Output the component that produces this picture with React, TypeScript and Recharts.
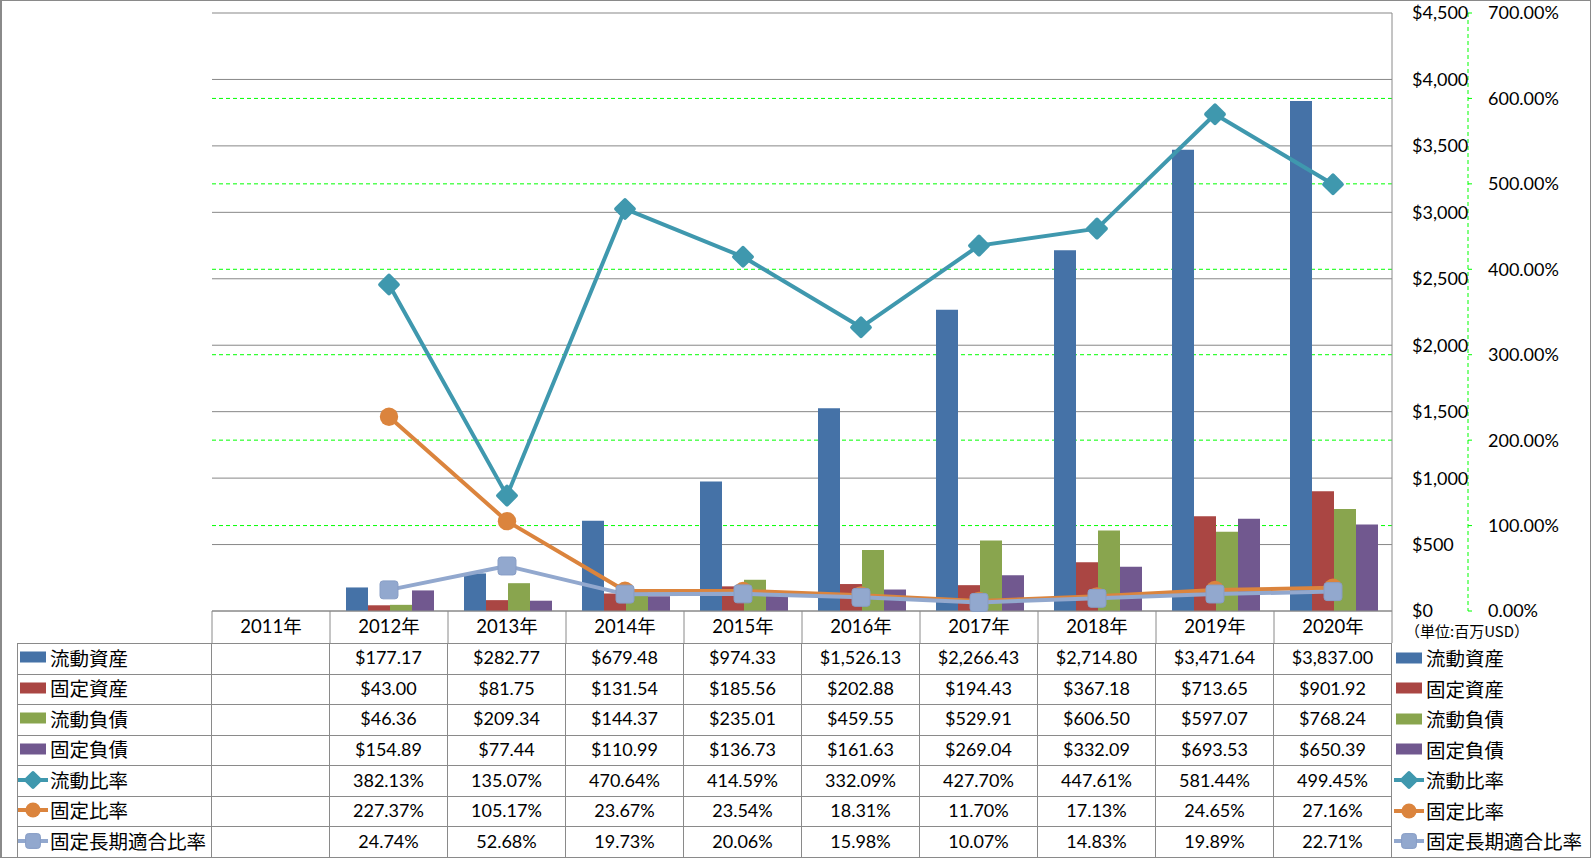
import React from 'react';
import { ComposedChart, Bar, Line, XAxis, YAxis, CartesianGrid } from 'recharts';

const years = ['2011年', '2012年', '2013年', '2014年', '2015年', '2016年', '2017年', '2018年', '2019年', '2020年'];
const currentAssets = [null, 177.17, 282.77, 679.48, 974.33, 1526.13, 2266.43, 2714.8, 3471.64, 3837.0];
const fixedAssets = [null, 43.0, 81.75, 131.54, 185.56, 202.88, 194.43, 367.18, 713.65, 901.92];
const currentLiabilities = [null, 46.36, 209.34, 144.37, 235.01, 459.55, 529.91, 606.5, 597.07, 768.24];
const fixedLiabilities = [null, 154.89, 77.44, 110.99, 136.73, 161.63, 269.04, 332.09, 693.53, 650.39];
const currentRatio = [null, 382.13, 135.07, 470.64, 414.59, 332.09, 427.7, 447.61, 581.44, 499.45];
const fixedRatio = [null, 227.37, 105.17, 23.67, 23.54, 18.31, 11.7, 17.13, 24.65, 27.16];
const fixedLongTermRatio = [null, 24.74, 52.68, 19.73, 20.06, 15.98, 10.07, 14.83, 19.89, 22.71];

const usdTicks = [0, 500, 1000, 1500, 2000, 2500, 3000, 3500, 4000, 4500];
const pctTicks = [0, 100, 200, 300, 400, 500, 600, 700];
const pctGridValues = [100, 200, 300, 400, 500, 600];
const unitLabel = '（単位:百万USD）';

const C_BLUE = '#4572A7';
const C_RED = '#AA4643';
const C_GREEN = '#89A54E';
const C_PURPLE = '#71588F';
const C_TEAL = '#3F98AE';
const C_ORANGE = '#DB843D';
const C_LIGHT = '#92A8CE';
const C_BORDER = '#8a8a8a';

const W = 1591;
const H = 858;
const PLOT_LEFT = 212;
const PLOT_TOP = 13;
const PLOT_BOTTOM = 611;
const PLOT_RIGHT = 1392;
const HEADER_H = 32;
const USD_AXIS_W = 76;
const PCT_AXIS_W = W - PLOT_RIGHT - USD_AXIS_W;
const COL_W = (PLOT_RIGHT - PLOT_LEFT) / years.length;
const TABLE_TOP = PLOT_BOTTOM + HEADER_H;
const ROW_H = (H - 1 - TABLE_TOP) / 7;

const USD_ID = 'a_usd';
const PCT_ID = 'b_pct';

const FONT = "Lato, 'Noto Sans CJK JP', sans-serif";
const CJK = "'Noto Sans CJK JP', sans-serif";

type Kind = 'bar' | 'diamond' | 'circle' | 'square';
const fmtUsd = (v: number) => '$' + v.toLocaleString('en-US', { minimumFractionDigits: 2, maximumFractionDigits: 2 });
const fmtPct = (v: number) => v.toFixed(2) + '%';

const rows: { key: string; name: string; kind: Kind; color: string; values: (number | null)[]; fmt: (v: number) => string }[] = [
  { key: 'ca', name: '流動資産', kind: 'bar', color: C_BLUE, values: currentAssets, fmt: fmtUsd },
  { key: 'fa', name: '固定資産', kind: 'bar', color: C_RED, values: fixedAssets, fmt: fmtUsd },
  { key: 'cl', name: '流動負債', kind: 'bar', color: C_GREEN, values: currentLiabilities, fmt: fmtUsd },
  { key: 'fl', name: '固定負債', kind: 'bar', color: C_PURPLE, values: fixedLiabilities, fmt: fmtUsd },
  { key: 'cr', name: '流動比率', kind: 'diamond', color: C_TEAL, values: currentRatio, fmt: fmtPct },
  { key: 'fr', name: '固定比率', kind: 'circle', color: C_ORANGE, values: fixedRatio, fmt: fmtPct },
  { key: 'flr', name: '固定長期適合比率', kind: 'square', color: C_LIGHT, values: fixedLongTermRatio, fmt: fmtPct },
];

const data = years.map((y, i) => {
  const o: any = { year: y };
  rows.forEach((r) => {
    o[r.key] = r.values[i];
  });
  return o;
});

function marker(kind: Kind, cx: number, cy: number, color: string, s: number, key?: string) {
  if (kind === 'diamond') {
    const side = s * 0.72;
    return (
      <rect key={key} x={cx - side / 2} y={cy - side / 2} width={side} height={side} rx={2}
        transform={`rotate(45 ${cx} ${cy})`} fill={color} />
    );
  }
  if (kind === 'circle') {
    return <circle key={key} cx={cx} cy={cy} r={s / 2 * 0.8} fill={color} />;
  }
  const side = s * 0.78;
  return (
    <rect key={key} x={cx - side / 2} y={cy - side / 2} width={side} height={side} rx={3}
      fill={color} stroke="#889ec6" strokeWidth={1} />
  );
}

const makeDot = (kind: Kind, color: string) => (p: any) => {
  if (p.cx == null || p.cy == null || p.value == null || (Array.isArray(p.value) && p.value[1] == null)) {
    return <g key={`d-${p.index}`} />;
  }
  return marker(kind, p.cx, p.cy, color, 23, `d-${p.index}`);
};

const YearTick = (props: any) => {
  const { x, y, payload, index } = props;
  const half = COL_W / 2;
  return (
    <g>
      <line x1={x - half} x2={x - half} y1={y} y2={y + HEADER_H} stroke={C_BORDER} strokeWidth={1} />
      {index === years.length - 1 && (
        <line x1={x + half} x2={x + half} y1={y} y2={y + HEADER_H} stroke={C_BORDER} strokeWidth={1} />
      )}
      <text x={x} y={y + HEADER_H / 2} dy="0.35em" textAnchor="middle" fontSize={18.5} fill="#000" fontFamily={FONT}>
        {payload.value}
      </text>
    </g>
  );
};

function LegendKey({ kind, color }: { kind: Kind; color: string }) {
  return (
    <svg width={30} height={20} style={{ display: 'block', flex: '0 0 auto' }}>
      {kind === 'bar' ? (
        <rect x={2} y={4.5} width={26} height={11} fill={color} />
      ) : (
        <g>
          <line x1={0} x2={30} y1={10} y2={10} stroke={color} strokeWidth={4} />
          {marker(kind, 15, 10, color, 19)}
        </g>
      )}
    </svg>
  );
}

export default function App() {
  const cellBase: React.CSSProperties = {
    boxSizing: 'border-box',
    borderRight: `1px solid ${C_BORDER}`,
    borderBottom: `1px solid ${C_BORDER}`,
    display: 'flex',
    alignItems: 'center',
    overflow: 'hidden',
    whiteSpace: 'nowrap',
    paddingBottom: 3,
  };
  return (
    <div style={{ position: 'absolute', left: 0, top: 0, width: W, height: H, background: '#fff', fontFamily: FONT }}>
      <ComposedChart
        width={W}
        height={H}
        data={data}
        margin={{ top: PLOT_TOP, left: PLOT_LEFT, right: 0, bottom: H - PLOT_BOTTOM - HEADER_H }}
        barCategoryGap={16}
        barGap={0}
        style={{ fontFamily: FONT }}
      >
        <CartesianGrid
          yAxisId={PCT_ID}
          vertical={false}
          horizontalValues={pctGridValues}
          stroke="#00ff00"
          strokeDasharray="4 3"
          strokeWidth={1}
        />
        <CartesianGrid yAxisId={USD_ID} vertical={false} stroke="#878787" strokeWidth={1} />
        <XAxis
          dataKey="year"
          axisLine={{ stroke: C_BORDER }}
          tickLine={false}
          tickSize={0}
          tickMargin={0}
          height={HEADER_H}
          interval={0}
          tick={<YearTick />}
        />
        <YAxis
          yAxisId={USD_ID}
          orientation="right"
          width={USD_AXIS_W}
          domain={[0, 4500]}
          ticks={usdTicks}
          interval={0}
          tickFormatter={(v: number) => '$' + v.toLocaleString('en-US')}
          axisLine={{ stroke: C_BORDER }}
          tickLine={false}
          tickSize={0}
          tickMargin={20}
          tick={{ fill: '#000', fontSize: 18, fontFamily: FONT }}
        />
        <YAxis
          yAxisId={PCT_ID}
          orientation="right"
          width={PCT_AXIS_W}
          domain={[0, 700]}
          ticks={pctTicks}
          interval={0}
          tickFormatter={(v: number) => v.toFixed(2) + '%'}
          axisLine={{ stroke: '#00ff00', strokeDasharray: '4 3' }}
          tickLine={{ stroke: '#00ff00' }}
          tickSize={4}
          tickMargin={16}
          tick={{ fill: '#000', fontSize: 18, fontFamily: FONT }}
        />
        {rows.filter((r) => r.kind === 'bar').map((r) => (
          <Bar key={r.key} yAxisId={USD_ID} dataKey={r.key} name={r.name} fill={r.color} isAnimationActive={false} />
        ))}
        {rows.filter((r) => r.kind !== 'bar').map((r) => (
          <Line
            key={r.key}
            yAxisId={PCT_ID}
            type="linear"
            dataKey={r.key}
            name={r.name}
            stroke={r.color}
            strokeWidth={4}
            strokeLinejoin="round"
            dot={makeDot(r.kind, r.color)}
            activeDot={false}
            isAnimationActive={false}
          />
        ))}
      </ComposedChart>

      {/* data table */}
      <div
        style={{
          position: 'absolute',
          left: 17,
          top: TABLE_TOP,
          borderTop: `1px solid ${C_BORDER}`,
          borderLeft: `1px solid ${C_BORDER}`,
          display: 'grid',
          gridTemplateColumns: `${PLOT_LEFT - 18}px repeat(${years.length}, ${COL_W}px)`,
          gridAutoRows: `${ROW_H}px`,
        }}
      >
        {rows.map((r) => (
          <React.Fragment key={r.key}>
            <div style={{ ...cellBase, paddingLeft: 0 }}>
              <LegendKey kind={r.kind} color={r.color} />
              <span style={{ fontFamily: CJK, fontSize: 19.5, color: '#000', marginLeft: 2, lineHeight: 1 }}>{r.name}</span>
            </div>
            {r.values.map((v, i) => (
              <div key={i} style={{ ...cellBase, justifyContent: 'center', fontSize: 18, color: '#000' }}>
                {v == null ? '' : r.fmt(v)}
              </div>
            ))}
          </React.Fragment>
        ))}
      </div>

      {/* right legend */}
      <div
        style={{
          position: 'absolute',
          left: 1405,
          top: PLOT_BOTTOM + 7,
          fontFamily: CJK,
          fontSize: 15,
          lineHeight: '26px',
          color: '#000',
          whiteSpace: 'nowrap',
        }}
      >
        {unitLabel}
      </div>
      <div style={{ position: 'absolute', left: PLOT_RIGHT + 2, top: TABLE_TOP + 1 }}>
        {rows.map((r) => (
          <div key={r.key} style={{ height: ROW_H, display: 'flex', alignItems: 'center', boxSizing: 'border-box', paddingBottom: 3 }}>
            <LegendKey kind={r.kind} color={r.color} />
            <span style={{ fontFamily: CJK, fontSize: 19.5, color: '#000', marginLeft: 2, lineHeight: 1, whiteSpace: 'nowrap' }}>
              {r.name}
            </span>
          </div>
        ))}
      </div>

      {/* outer border */}
      <div
        style={{
          position: 'absolute',
          left: 0,
          top: 0,
          width: W,
          height: H,
          boxSizing: 'border-box',
          border: `1px solid ${C_BORDER}`,
          borderLeft: `2px solid ${C_BORDER}`,
          pointerEvents: 'none',
        }}
      />
    </div>
  );
}
